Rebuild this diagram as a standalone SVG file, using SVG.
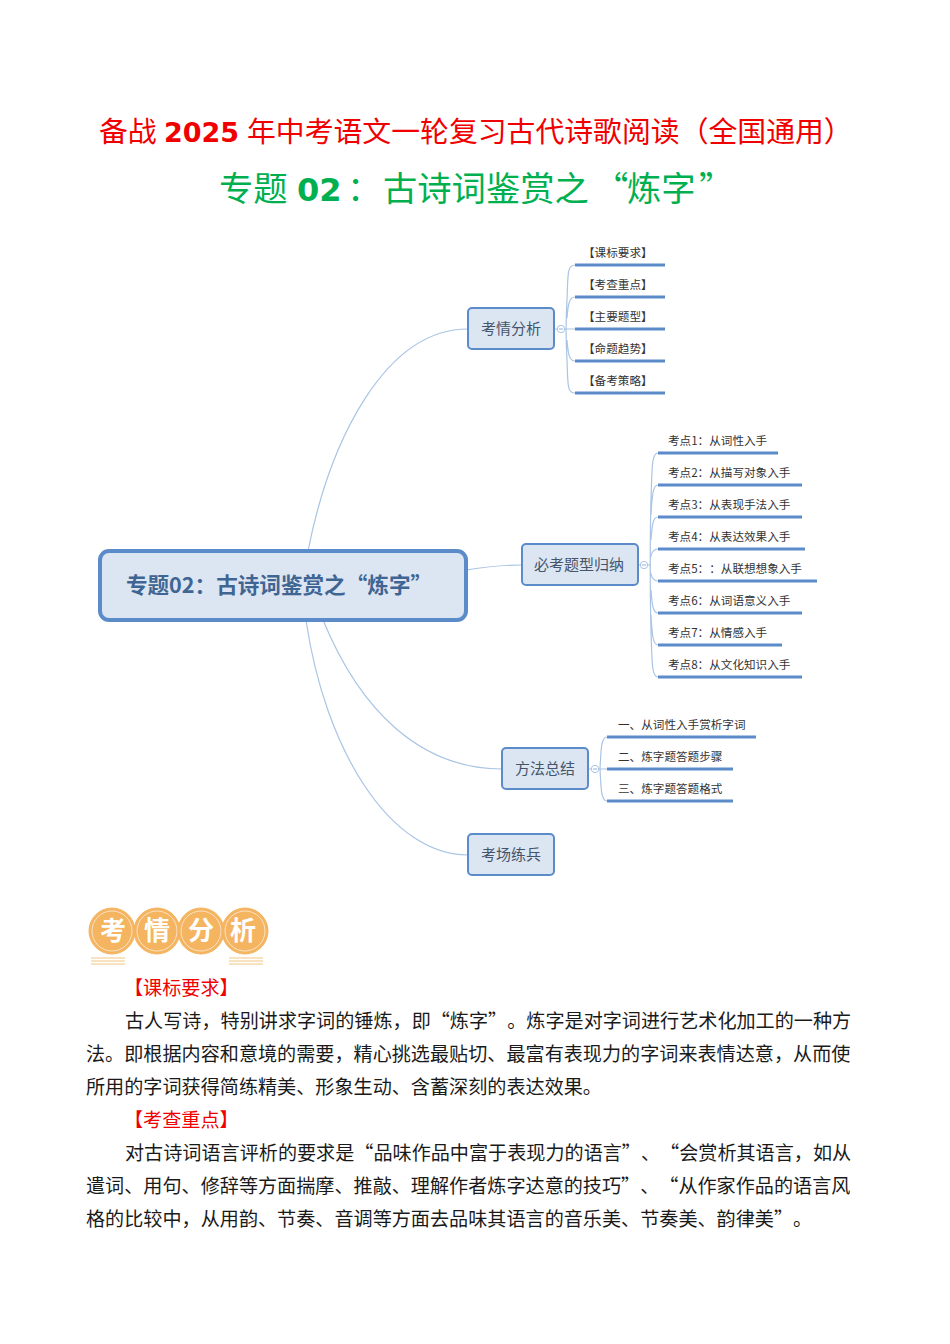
<svg xmlns="http://www.w3.org/2000/svg" width="950" height="1344" viewBox="0 0 950 1344">
<style>
text{font-family:"Noto Sans CJK SC","Noto Sans",sans-serif;text-spacing-trim:space-all;font-feature-settings:"chws" 0,"palt" 0,"kern" 0}
.t1{font-size:28.85px;fill:#f00000}
.t2{font-size:34.3px;fill:#00b050}
.n1{font-family:"DejaVu Sans",sans-serif;font-weight:700;font-size:27px}
.n2{font-family:"DejaVu Sans",sans-serif;font-weight:700;font-size:32px}
.body{font-size:19.13px;fill:#1a1a1a}
.red{font-size:19.13px;fill:#f00000}
.node{fill:#dce6f3;stroke:#5b8cc9;stroke-width:2}
.nt{font-size:15px;fill:#44546a;text-anchor:middle}
.lab{font-size:11.6px;fill:#333}
.c{fill:none;stroke:#a9c4e4;stroke-width:1.2}
.u{stroke:#5b8cc9;stroke-width:3}
.fold{fill:#fff;stroke:#a9c4e4;stroke-width:1}
.dash{stroke:#8fb0d8;stroke-width:1}
.coin{fill:#f4b460;stroke:#f4b460}
.ring{fill:none;stroke:#fbe3c4;stroke-width:1}
.ct{font-size:26px;font-weight:700;fill:#fff;text-anchor:middle}
.rule{stroke:#f7d9ab;stroke-width:1.5}
</style>
<g id="titles">
<text class="t1" y="142"><tspan x="99">备战</tspan><tspan class="n1" x="164">2025</tspan><tspan x="247">年中考语文一轮复习古代诗歌阅读（全国通用）</tspan></text>
<text class="t2" y="201"><tspan x="219">专题</tspan><tspan class="n2" x="297">02</tspan><tspan x="347">：</tspan><tspan x="383">古诗词鉴赏之</tspan><tspan x="594">“</tspan><tspan x="627">炼字</tspan><tspan x="699">”</tspan></text>
</g>
<g id="connectors">
<path class="c" d="M308,551C330,440 385,329 468,329"/>
<path class="c" d="M466,570C485,567 500,565 521,565"/>
<path class="c" d="M323,620C360,710 420,769 502,769"/>
<path class="c" d="M306,620C325,750 390,855 468,855"/>
<path class="c" d="M555,329H558M565,329H575M575,265C567,265 568,275 567,300C566,315 566,343 567,360C568,385 567,393 575,393M575,297C569,297 568,305 567,318M575,361C569,361 568,353 567,340"/>
<path class="c" d="M638,565H640M648,565H651M658,453C652,453 652,465 651,500C650,530 650,600 651,630C652,665 652,677 658,677M658,485C653,485 652,495 651,515M658,517C653,517 652,525 651,540M658,549C652,549 650,555 650,565C650,575 652,581 658,581M658,613C653,613 652,605 651,590M658,645C653,645 652,635 651,615"/>
<path class="c" d="M588,769H591M599,769H607M607,737C601,737 601,750 600,769C601,788 601,801 607,801"/>
<g class="u">
<path d="M575,265H665M575,297H665M575,329H665M575,361H665M575,393H665"/>
<path d="M658,453H778M658,485H802M658,517H802M658,549H805M658,581H817M658,613H802M658,645H782M658,677H802"/>
<path d="M607,737H756M607,769H733M607,801H733"/>
</g>
</g>
<g id="root"><rect x="100" y="551" width="366" height="69" rx="9" fill="#dce6f3" stroke="#5b8cc9" stroke-width="4"/>
<text x="279" y="593" font-size="21.6" font-weight="700" fill="#3f6593" text-anchor="middle">专题02：古诗词鉴赏之“炼字”</text></g>
<g id="n1"><rect class="node" x="468" y="308" width="86" height="41" rx="4"/><text class="nt" x="511" y="334">考情分析</text>
<circle class="fold" cx="561" cy="329" r="3.7"/><path class="dash" d="M559,329H563"/></g>
<g id="n2"><rect class="node" x="522" y="544" width="116" height="41" rx="4"/><text class="nt" x="579" y="570">必考题型归纳</text>
<circle class="fold" cx="644" cy="565" r="3.7"/><path class="dash" d="M642,565H646"/></g>
<g id="n3"><rect class="node" x="502" y="748" width="86" height="41" rx="4"/><text class="nt" x="545" y="774">方法总结</text>
<circle class="fold" cx="595" cy="769" r="3.7"/><path class="dash" d="M593,769H597"/></g>
<g id="n4"><rect class="node" x="468" y="834" width="86" height="41" rx="4"/><text class="nt" x="511" y="860">考场练兵</text></g>
<g id="labels1">
<text class="lab" x="583" y="256.5">【课标要求】</text>
<text class="lab" x="583" y="288.5">【考查重点】</text>
<text class="lab" x="583" y="320.5">【主要题型】</text>
<text class="lab" x="583" y="352.5">【命题趋势】</text>
<text class="lab" x="583" y="384.5">【备考策略】</text>
</g>
<g id="labels2">
<text class="lab" x="668" y="444.5">考点1：从词性入手</text>
<text class="lab" x="668" y="476.5">考点2：从描写对象入手</text>
<text class="lab" x="668" y="508.5">考点3：从表现手法入手</text>
<text class="lab" x="668" y="540.5">考点4：从表达效果入手</text>
<text class="lab" x="668" y="572.5">考点5：：从联想想象入手</text>
<text class="lab" x="668" y="604.5">考点6：从词语意义入手</text>
<text class="lab" x="668" y="636.5">考点7：从情感入手</text>
<text class="lab" x="668" y="668.5">考点8：从文化知识入手</text>
</g>
<g id="labels3">
<text class="lab" x="618" y="728.5">一、从词性入手赏析字词</text>
<text class="lab" x="618" y="760.5">二、炼字题答题步骤</text>
<text class="lab" x="618" y="792.5">三、炼字题答题格式</text>
</g>
<g id="badge">
<circle class="coin" cx="112" cy="931" r="23"/><circle class="ring" cx="112" cy="931" r="20"/><text class="ct" x="113" y="940">考</text>
<circle class="coin" cx="157" cy="931" r="23"/><circle class="ring" cx="157" cy="931" r="20"/><text class="ct" x="157" y="940">情</text>
<circle class="coin" cx="201" cy="931" r="23"/><circle class="ring" cx="201" cy="931" r="20"/><text class="ct" x="201" y="940">分</text>
<circle class="coin" cx="245" cy="931" r="23"/><circle class="ring" cx="245" cy="931" r="20"/><text class="ct" x="243" y="940">析</text>
<path class="rule" d="M91,958H125M91,961H125M91,964H125M229,958H263M229,961H263M229,964H263"/>
</g>
<g id="body">
<text class="red" x="124" y="995">【课标要求】</text>
<text class="body" x="125" y="1028">古人写诗，特别讲求字词的锤炼，即“炼字”。炼字是对字词进行艺术化加工的一种方</text>
<text class="body" x="86" y="1061">法。即根据内容和意境的需要，精心挑选最贴切、最富有表现力的字词来表情达意，从而使</text>
<text class="body" x="86" y="1094">所用的字词获得简练精美、形象生动、含蓄深刻的表达效果。</text>
<text class="red" x="124" y="1127">【考查重点】</text>
<text class="body" x="125" y="1160">对古诗词语言评析的要求是“品味作品中富于表现力的语言”、“会赏析其语言，如从</text>
<text class="body" x="86" y="1193">遣词、用句、修辞等方面揣摩、推敲、理解作者炼字达意的技巧”、“从作家作品的语言风</text>
<text class="body" x="86" y="1226">格的比较中，从用韵、节奏、音调等方面去品味其语言的音乐美、节奏美、韵律美”。</text>
</g>
</svg>
